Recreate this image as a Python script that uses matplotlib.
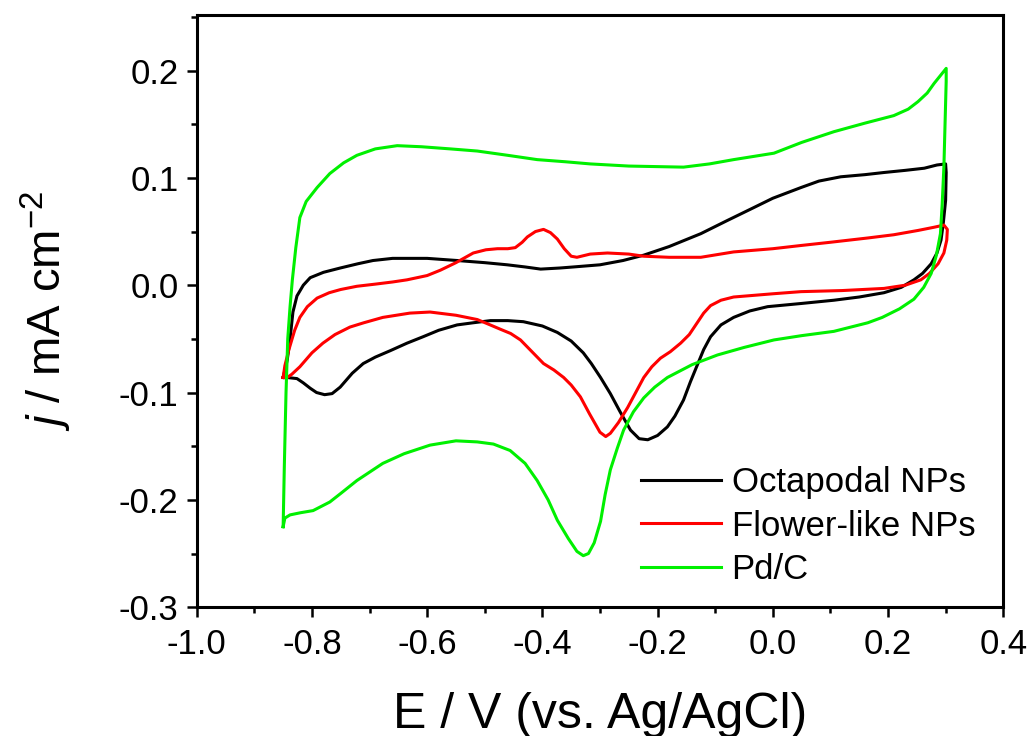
import numpy as np
import matplotlib
matplotlib.use("Agg")
import matplotlib.pyplot as plt
from matplotlib.ticker import MultipleLocator

plt.rcParams['font.family'] = ['Liberation Sans', 'DejaVu Sans']
plt.rcParams['mathtext.fontset'] = 'custom'
plt.rcParams['mathtext.rm'] = 'Liberation Sans'
plt.rcParams['mathtext.it'] = 'Liberation Sans:italic'
plt.rcParams['axes.unicode_minus'] = False

# Octapodal NPs (forward then reverse scan)
octa_E = [-0.850, -0.843, -0.838, -0.833, -0.826, -0.815, -0.803, -0.780, -0.751, -0.720,
          -0.694, -0.660, -0.635, -0.600, -0.548, -0.500, -0.461, -0.430, -0.403, -0.370,
          -0.346, -0.300, -0.260, -0.224, -0.180, -0.125, -0.080, -0.038, 0.000, 0.049,
          0.080, 0.118, 0.160, 0.193, 0.230, 0.263, 0.285, 0.300,
          0.301, 0.300, 0.296, 0.292, 0.285, 0.275, 0.260, 0.245, 0.223, 0.193,
          0.150, 0.106, 0.050, -0.009, -0.040, -0.068, -0.090, -0.108, -0.120, -0.130,
          -0.143, -0.155, -0.170, -0.183, -0.200, -0.217, -0.232, -0.247, -0.265, -0.282,
          -0.299, -0.315, -0.329, -0.350, -0.374, -0.400, -0.433, -0.460, -0.490, -0.520,
          -0.548, -0.580, -0.607, -0.635, -0.664, -0.690, -0.711, -0.730, -0.751, -0.765,
          -0.778, -0.792, -0.803, -0.815, -0.826, -0.843, -0.850]
octa_j = [-0.086, -0.070, -0.050, -0.025, -0.010, 0.000, 0.007, 0.012, 0.016, 0.020,
          0.023, 0.025, 0.025, 0.025, 0.023, 0.021, 0.019, 0.017, 0.015, 0.016,
          0.017, 0.019, 0.023, 0.028, 0.036, 0.048, 0.060, 0.071, 0.081, 0.091,
          0.097, 0.101, 0.103, 0.105, 0.107, 0.109, 0.112, 0.113,
          0.105, 0.079, 0.058, 0.042, 0.030, 0.020, 0.011, 0.005, -0.002, -0.007,
          -0.011, -0.014, -0.017, -0.020, -0.024, -0.030, -0.037, -0.048, -0.060, -0.073,
          -0.090, -0.107, -0.122, -0.132, -0.140, -0.144, -0.143, -0.135, -0.118, -0.101,
          -0.086, -0.073, -0.063, -0.052, -0.044, -0.038, -0.034, -0.033, -0.033, -0.035,
          -0.037, -0.042, -0.048, -0.054, -0.061, -0.067, -0.073, -0.082, -0.095, -0.101,
          -0.102, -0.100, -0.096, -0.091, -0.087, -0.086, -0.086]

# Flower-like NPs
flower_E = [-0.850, -0.847, -0.840, -0.830, -0.821, -0.808, -0.791, -0.770, -0.750, -0.722,
            -0.690, -0.660, -0.635, -0.600, -0.577, -0.550, -0.520, -0.498, -0.478, -0.460,
            -0.447, -0.435, -0.426, -0.412, -0.398, -0.386, -0.374, -0.362, -0.350, -0.340,
            -0.317, -0.287, -0.250, -0.224, -0.180, -0.125, -0.068, 0.000, 0.049, 0.100,
            0.165, 0.210, 0.252, 0.280, 0.297, 0.303,
            0.302, 0.297, 0.287, 0.272, 0.257, 0.230, 0.193, 0.120, 0.049, 0.000,
            -0.068, -0.090, -0.108, -0.120, -0.130, -0.145, -0.160, -0.178, -0.195, -0.210,
            -0.224, -0.240, -0.252, -0.268, -0.282, -0.290, -0.300, -0.318, -0.334, -0.350,
            -0.363, -0.380, -0.398, -0.418, -0.438, -0.455, -0.473, -0.495, -0.513, -0.550,
            -0.595, -0.630, -0.677, -0.710, -0.734, -0.760, -0.781, -0.800, -0.821, -0.835,
            -0.843, -0.850]
flower_j = [-0.086, -0.075, -0.060, -0.042, -0.030, -0.020, -0.012, -0.007, -0.004, -0.001,
            0.001, 0.003, 0.005, 0.009, 0.014, 0.021, 0.030, 0.033, 0.034, 0.034,
            0.035, 0.040, 0.045, 0.050, 0.052, 0.049, 0.043, 0.034, 0.027, 0.026,
            0.029, 0.030, 0.029, 0.027, 0.026, 0.026, 0.031, 0.034, 0.037, 0.040,
            0.044, 0.047, 0.051, 0.054, 0.056, 0.052,
            0.042, 0.030, 0.020, 0.011, 0.005, 0.000, -0.003, -0.005, -0.006, -0.008,
            -0.011, -0.014, -0.019, -0.026, -0.034, -0.046, -0.054, -0.062, -0.068, -0.076,
            -0.086, -0.102, -0.114, -0.128, -0.138, -0.141, -0.137, -0.120, -0.104, -0.093,
            -0.086, -0.079, -0.073, -0.062, -0.051, -0.045, -0.041, -0.036, -0.032, -0.028,
            -0.025, -0.026, -0.030, -0.035, -0.039, -0.046, -0.054, -0.063, -0.076, -0.083,
            -0.086, -0.086]

# Pd/C
pdc_E = [-0.850, -0.848, -0.845, -0.842, -0.838, -0.834, -0.828, -0.821, -0.810, -0.791,
         -0.769, -0.745, -0.722, -0.690, -0.652, -0.610, -0.560, -0.513, -0.460, -0.409,
         -0.360, -0.317, -0.250, -0.155, -0.110, -0.068, 0.002, 0.050, 0.106, 0.160,
         0.210, 0.235, 0.252, 0.268, 0.280, 0.292, 0.301,
         0.301, 0.299, 0.297, 0.294, 0.291, 0.284, 0.275, 0.262, 0.245, 0.220,
         0.190, 0.165, 0.106, 0.050, 0.002, -0.050, -0.096, -0.140, -0.183, -0.205,
         -0.224, -0.242, -0.259, -0.270, -0.282, -0.291, -0.299, -0.310, -0.320, -0.329,
         -0.340, -0.355, -0.374, -0.390, -0.409, -0.430, -0.456, -0.485, -0.513, -0.550,
         -0.595, -0.640, -0.677, -0.722, -0.750, -0.769, -0.798, -0.820, -0.838, -0.847,
         -0.850]
pdc_j = [-0.225, -0.170, -0.100, -0.050, -0.020, 0.005, 0.035, 0.063, 0.078, 0.091,
         0.104, 0.114, 0.121, 0.127, 0.130, 0.129, 0.127, 0.125, 0.121, 0.117,
         0.115, 0.113, 0.111, 0.110, 0.113, 0.117, 0.123, 0.133, 0.143, 0.151,
         0.158, 0.164, 0.171, 0.179, 0.188, 0.196, 0.202,
         0.190, 0.150, 0.110, 0.075, 0.048, 0.028, 0.011, -0.002, -0.013, -0.022,
         -0.030, -0.035, -0.043, -0.047, -0.051, -0.058, -0.065, -0.074, -0.086, -0.095,
         -0.105, -0.118, -0.135, -0.152, -0.172, -0.195, -0.220, -0.240, -0.250, -0.252,
         -0.248, -0.236, -0.219, -0.200, -0.182, -0.166, -0.154, -0.148, -0.146, -0.145,
         -0.149, -0.157, -0.166, -0.182, -0.194, -0.202, -0.210, -0.212, -0.214, -0.217,
         -0.225]

x_ticks = ['-1.0', '-0.8', '-0.6', '-0.4', '-0.2', '0.0', '0.2', '0.4']
y_ticks = ['-0.3', '-0.2', '-0.1', '0.0', '0.1', '0.2']

fig = plt.figure(figsize=(10.3, 7.36), dpi=100)
ax = fig.add_axes([0.191, 0.175, 0.783, 0.805])

ax.plot(octa_E, octa_j, color='black', lw=2.2, label='Octapodal NPs')
ax.plot(flower_E, flower_j, color='#ff0000', lw=2.2, label='Flower-like NPs')
ax.plot(pdc_E, pdc_j, color='#00f000', lw=2.2, label='Pd/C')

ax.set_xlim(-1.0, 0.4)
ax.set_ylim(-0.3, 0.252)
ax.xaxis.set_minor_locator(MultipleLocator(0.1))
ax.yaxis.set_minor_locator(MultipleLocator(0.05))
ax.set_xticks(np.arange(-1.0, 0.41, 0.2))
ax.set_xticklabels(x_ticks)
ax.set_yticks(np.arange(-0.3, 0.21, 0.1))
ax.set_yticklabels(y_ticks)

ax.tick_params(which='major', direction='out', length=7, width=1.8, labelsize=25)
ax.tick_params(axis='x', which='major', pad=8)
ax.tick_params(axis='y', which='major', pad=6)
ax.tick_params(which='minor', direction='out', length=4, width=1.8)
for s in ax.spines.values():
    s.set_linewidth(2.2)

ax.set_xlabel('E / V (vs. Ag/AgCl)', fontsize=36, labelpad=22)
ax.set_ylabel(r'$j$ / mA cm$^{-2}$', fontsize=34, labelpad=32)

ax.legend(loc='lower right', bbox_to_anchor=(1.004, -0.017), frameon=False, fontsize=25,
          handlelength=2.3, handletextpad=0.3, labelspacing=0.3)

fig.savefig('out.png', dpi=100)
